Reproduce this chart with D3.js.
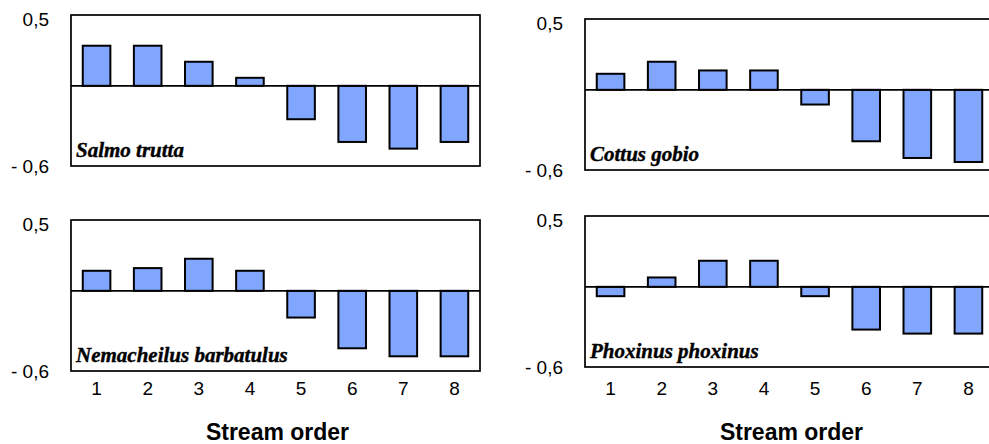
<!DOCTYPE html>
<html>
<head>
<meta charset="utf-8">
<script src="https://cdn.jsdelivr.net/npm/d3@7"></script>
<style>
  body { margin: 0; background: #fff; }
</style>
</head>
<body>
<div id="my_dataviz"></div>
<script>
// Data
var streamOrder = ["1", "2", "3", "4", "5", "6", "7", "8"];
var species = ["Salmo trutta", "Cottus gobio", "Nemacheilus barbatulus", "Phoxinus phoxinus"];
var salmoTrutta = [0.30, 0.30, 0.18, 0.06, -0.25, -0.42, -0.47, -0.42];
var cottusGobio = [0.12, 0.21, 0.145, 0.145, -0.11, -0.385, -0.51, -0.54];
var nemacheilusBarbatulus = [0.15, 0.17, 0.24, 0.15, -0.20, -0.43, -0.49, -0.49];
var phoxinusPhoxinus = [-0.07, 0.07, 0.195, 0.195, -0.07, -0.32, -0.35, -0.35];
var yTicks = [0.5, -0.6];
var yTickLabels = ["0,5", "- 0,6"];
var xTitle = "Stream order";

var width = 989,
    height = 444,
    boxW = 409,
    boxH = 151;

// one entry per panel: where the box sits and whether it gets the x axis
var panels = [
    { name: species[0], values: salmoTrutta, x: 71, y: 15, bottom: false },
    { name: species[1], values: cottusGobio, x: 585, y: 19, bottom: false },
    { name: species[2], values: nemacheilusBarbatulus, x: 71, y: 220, bottom: true },
    { name: species[3], values: phoxinusPhoxinus, x: 585, y: 216, bottom: true }
];

var svg = d3.select("#my_dataviz")
    .append("svg")
    .attr("width", width)
    .attr("height", height);

var x = d3.scaleBand()
    .domain(streamOrder)
    .range([0, boxW])
    .paddingInner(0.46)
    .paddingOuter(0.23);

var y = d3.scaleLinear()
    .domain([-0.6, 0.53])
    .range([boxH, 0]);

panels.forEach(function(p) {
    var g = svg.append("g")
        .attr("transform", "translate(" + p.x + "," + p.y + ")");

    // frame
    g.append("rect")
        .attr("x", 0)
        .attr("y", 0)
        .attr("width", boxW)
        .attr("height", boxH)
        .attr("fill", "none")
        .attr("stroke", "black")
        .style("stroke-width", "1.7px");

    // bars
    g.selectAll("rect.bar")
        .data(p.values)
        .enter()
        .append("rect")
        .attr("class", "bar")
        .attr("x", function(d, i) { return x(streamOrder[i]); })
        .attr("y", function(d) { return y(Math.max(0, d)); })
        .attr("width", x.bandwidth())
        .attr("height", function(d) { return Math.abs(y(d) - y(0)); })
        .attr("fill", "#80a6ff")
        .attr("stroke", "black")
        .style("stroke-width", "2px");

    // zero line
    g.append("line")
        .attr("x1", 0)
        .attr("x2", boxW)
        .attr("y1", y(0))
        .attr("y2", y(0))
        .attr("stroke", "black")
        .style("stroke-width", "1.7px");

    // y labels (only top and bottom)
    g.selectAll("text.ytick")
        .data(yTicks)
        .enter()
        .append("text")
        .attr("class", "ytick")
        .attr("x", -22)
        .attr("y", function(d) { return y(d); })
        .attr("dy", "0.35em")
        .attr("text-anchor", "end")
        .style("font-family", "'Liberation Sans', Arial, sans-serif")
        .style("font-size", "19px")
        .text(function(d, i) { return yTickLabels[i]; });

    // species name
    g.append("text")
        .attr("x", 5)
        .attr("y", boxH - 9)
        .style("font-family", "'Liberation Serif', 'Times New Roman', serif")
        .style("font-weight", "bold")
        .style("font-style", "italic")
        .style("font-size", "21px")
        .attr("stroke", "black")
        .style("stroke-width", "0.4px")
        .text(p.name);

    if (p.bottom) {
        g.selectAll("text.xtick")
            .data(streamOrder)
            .enter()
            .append("text")
            .attr("class", "xtick")
            .attr("x", function(d) { return x(d) + x.bandwidth() / 2; })
            .attr("y", 395 - p.y)
            .attr("text-anchor", "middle")
            .style("font-family", "'Liberation Sans', Arial, sans-serif")
            .style("font-size", "19px")
            .text(function(d) { return d; });

        g.append("text")
            .attr("x", boxW / 2 + 2)
            .attr("y", 440 - p.y)
            .attr("text-anchor", "middle")
            .style("font-family", "'Liberation Sans', Arial, sans-serif")
            .style("font-weight", "bold")
            .style("font-size", "23px")
            .text(xTitle);
    }
});
</script>
</body>
</html>
